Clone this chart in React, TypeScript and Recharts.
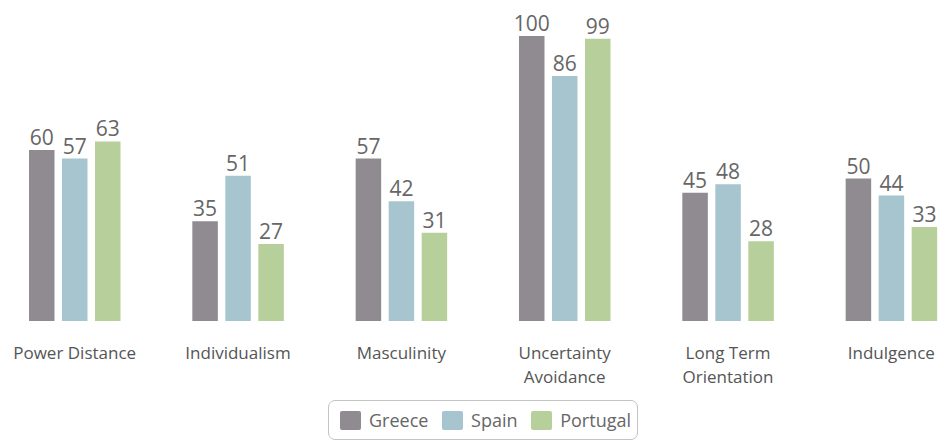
import React from 'react';
import { BarChart, Bar, XAxis, YAxis, LabelList, Legend } from 'recharts';

// ── Data ──────────────────────────────────────────────────────────────────────

const dimensions = [
  'Power Distance',
  'Individualism',
  'Masculinity',
  'Uncertainty Avoidance',
  'Long Term Orientation',
  'Indulgence',
];

const greece = [60, 35, 57, 100, 45, 50];
const spain = [57, 51, 42, 86, 48, 44];
const portugal = [63, 27, 31, 99, 28, 33];

// line breaks used by the category labels
const tickLines: Record<string, string[]> = {
  'Uncertainty Avoidance': ['Uncertainty', 'Avoidance'],
  'Long Term Orientation': ['Long Term', 'Orientation'],
};

const series = [
  { key: 'Greece', values: greece, color: '#8f8b90' },
  { key: 'Spain', values: spain, color: '#a6c5ce' },
  { key: 'Portugal', values: portugal, color: '#b7cf9a' },
];

const rows = dimensions.map((name, i) => {
  const row: Record<string, string | number> = { name };
  series.forEach((s) => {
    row[s.key] = s.values[i];
  });
  return row;
});

const FONT = '"Open Sans", "DejaVu Sans", sans-serif';

// ── Custom pieces ─────────────────────────────────────────────────────────────

// each line is its own <text> so the two-line labels stack cleanly
function CategoryTick(props: { x?: number; y?: number; payload?: { value: string } }) {
  const { x = 0, y = 0, payload } = props;
  const value = payload?.value ?? '';
  const lines = tickLines[value] ?? [value];
  return (
    <g>
      {lines.map((line, i) => (
        <text
          key={i}
          x={x}
          y={y + 30 + i * 23.5}
          textAnchor="middle"
          fill="#555"
          fontSize={17}
          fontFamily={FONT}
        >
          {line}
        </text>
      ))}
    </g>
  );
}

function LegendBox() {
  return (
    <div
      style={{
        display: 'flex',
        alignItems: 'center',
        justifyContent: 'space-between',
        boxSizing: 'border-box',
        width: 310,
        height: 40,
        padding: '0 6px 0 11px',
        border: '1.5px solid #c4c4c4',
        borderRadius: 7,
        fontFamily: FONT,
        fontSize: 18,
        color: '#666',
      }}
    >
      {series.map((s) => (
        <div key={s.key} style={{ display: 'flex', alignItems: 'center' }}>
          <div style={{ width: 21, height: 19, background: s.color, marginRight: 8, borderRadius: 2 }} />
          <span>{s.key}</span>
        </div>
      ))}
    </div>
  );
}

// ── Chart ─────────────────────────────────────────────────────────────────────

export default function App() {
  return (
    <div
      style={{
        position: 'absolute',
        left: 0,
        top: 0,
        width: 940,
        height: 441,
        overflow: 'hidden',
        background: '#fff',
      }}
    >
      <div style={{ marginLeft: -7 }}>
        <BarChart
          width={980}
          height={441}
          data={rows}
          margin={{ top: 36, right: 0, bottom: 60, left: 0 }}
          barSize={25.5}
          barGap={7.5}
        >
          <XAxis
            dataKey="name"
            height={60}
            interval={0}
            tickLine={false}
            axisLine={false}
            tick={<CategoryTick />}
          />
          <YAxis hide domain={[0, 100]} />
          <Legend
            layout="horizontal"
            verticalAlign="middle"
            align="center"
            wrapperStyle={{ top: 400, left: 335, width: 310, height: 40 }}
            content={() => <LegendBox />}
          />
          {series.map((s) => (
            <Bar key={s.key} dataKey={s.key} fill={s.color} isAnimationActive={false}>
              <LabelList
                dataKey={s.key}
                position="top"
                offset={5}
                fill="#666"
                fontSize={21}
                fontFamily={FONT}
              />
            </Bar>
          ))}
        </BarChart>
      </div>
    </div>
  );
}
